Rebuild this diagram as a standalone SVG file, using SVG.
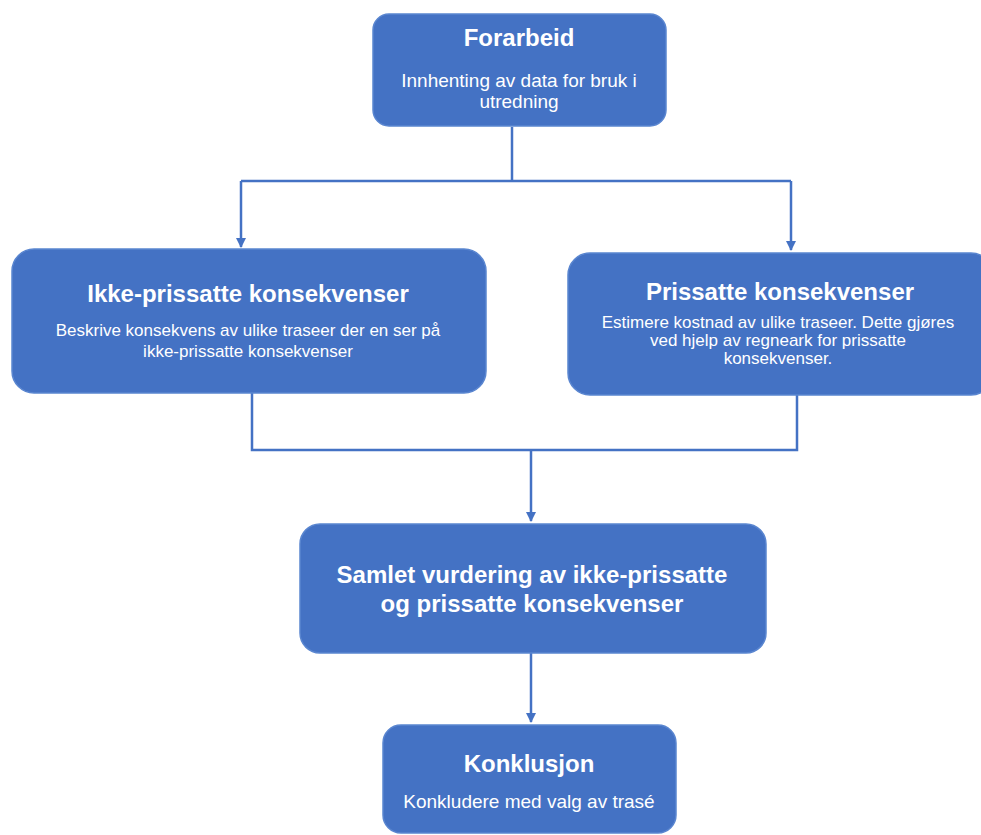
<svg xmlns="http://www.w3.org/2000/svg" width="981" height="835" viewBox="0 0 981 835">
<style>
.box{fill:#4472C4;stroke:#5A86D0;stroke-width:1.5}
.t{font-family:"Liberation Sans",Arial,sans-serif;fill:#FFFFFF;text-anchor:middle}
.h{font-weight:bold;font-size:24px}
.s{font-size:17px}
.s2{font-size:19px}
.c{fill:none;stroke:#4472C4;stroke-width:2.5}
</style>
<defs>
<marker id="arr" viewBox="0 0 10 10" refX="9" refY="5" markerWidth="4" markerHeight="4" orient="auto" markerUnits="strokeWidth">
<path d="M0,0 L10,5 L0,10 z" fill="#4472C4"/>
</marker>
</defs>
<rect width="981" height="835" fill="#FFFFFF"/>
<g id="connectors">
<polyline class="c" points="512,127 512,181"/>
<polyline class="c" points="241,181 791,181"/>
<polyline class="c" points="241,181 241,247" marker-end="url(#arr)"/>
<polyline class="c" points="791,181 791,250" marker-end="url(#arr)"/>
<polyline class="c" points="252,393 252,450 797,450 797,395"/>
<polyline class="c" points="531,450 531,521" marker-end="url(#arr)"/>
<polyline class="c" points="531,653 531,722" marker-end="url(#arr)"/>
</g>
<g id="forarbeid">
<rect class="box" x="373" y="14" width="293" height="112" rx="16"/>
<text class="t h" x="519" y="46">Forarbeid</text>
<text class="t s2" x="519" y="87">Innhenting av data for bruk i</text>
<text class="t s2" x="519" y="108">utredning</text>
</g>
<g id="ikke-prissatte">
<rect class="box" x="12" y="249" width="474" height="144" rx="22"/>
<text class="t h" x="248" y="302">Ikke-prissatte konsekvenser</text>
<text class="t s" x="248" y="336">Beskrive konsekvens av ulike traseer der en ser på</text>
<text class="t s" x="248" y="357">ikke-prissatte konsekvenser</text>
</g>
<g id="prissatte">
<rect class="box" x="568" y="253" width="425" height="142" rx="22"/>
<text class="t h" x="780" y="300">Prissatte konsekvenser</text>
<text class="t s" x="778" y="328">Estimere kostnad av ulike traseer. Dette gjøres</text>
<text class="t s" x="778" y="346">ved hjelp av regneark for prissatte</text>
<text class="t s" x="778" y="364">konsekvenser.</text>
</g>
<g id="samlet">
<rect class="box" x="300" y="524" width="466" height="129" rx="20"/>
<text class="t h" x="532" y="583">Samlet vurdering av ikke-prissatte</text>
<text class="t h" x="532" y="612">og prissatte konsekvenser</text>
</g>
<g id="konklusjon">
<rect class="box" x="383" y="725" width="293" height="108" rx="18"/>
<text class="t h" x="529" y="772">Konklusjon</text>
<text class="t s2" x="529" y="808">Konkludere med valg av trasé</text>
</g>
</svg>
